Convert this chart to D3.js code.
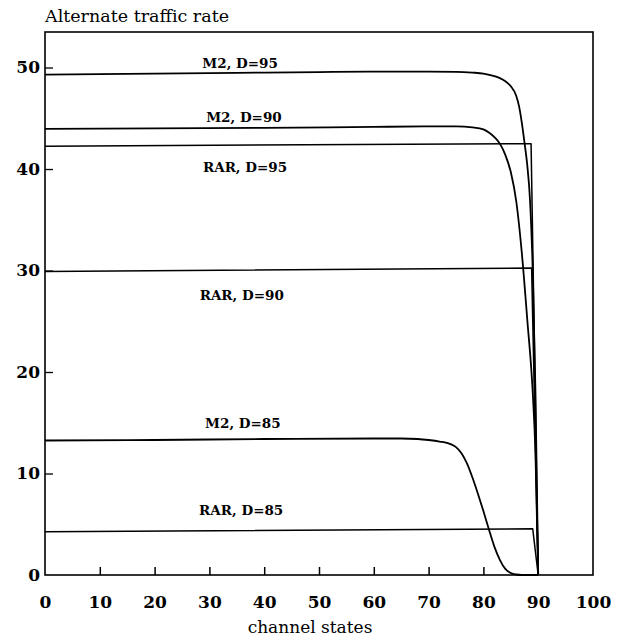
<!DOCTYPE html>
<html>
<head>
<meta charset="utf-8">
<script src="https://cdn.jsdelivr.net/npm/d3@7"></script>
<style>
  html, body { margin: 0; padding: 0; background: #fff; }
  svg { display: block; }
</style>
</head>
<body>
<svg id="chart" width="620" height="638"></svg>
<script>
// ---- data ----
const xTicks = [0, 10, 20, 30, 40, 50, 60, 70, 80, 90, 100];
const yTicks = [0, 10, 20, 30, 40, 50];

const m2D95X = [0, 10, 20, 30, 40, 50, 60, 70, 75, 78, 80, 82, 83, 84, 85, 86, 86.5, 87, 87.5, 88, 88.5, 89, 89.5, 90];
const m2D95Y = [49.3, 49.35, 49.4, 49.45, 49.5, 49.55, 49.6, 49.6, 49.58, 49.5, 49.4, 49.15, 48.95, 48.65, 48.15, 47.2, 46.2, 44.6, 42.6, 40.4, 37, 30, 18, 0];

const m2D90X = [0, 20, 40, 60, 70, 75, 78, 80, 81, 82, 83, 84, 85, 86, 87, 88, 89, 89.5, 90];
const m2D90Y = [43.95, 44.0, 44.05, 44.15, 44.2, 44.2, 44.1, 43.9, 43.6, 43.15, 42.5, 41.4, 39.7, 36.8, 31.8, 25.2, 18, 12, 0];

const m2D85X = [0, 20, 40, 60, 65, 68, 70, 72, 74, 75, 76, 77, 78, 79, 80, 81, 82, 83, 84, 85, 86, 87, 90];
const m2D85Y = [13.25, 13.3, 13.4, 13.45, 13.45, 13.4, 13.3, 13.15, 12.9, 12.6, 12.0, 11.0, 9.6, 8.0, 6.3, 4.5, 2.8, 1.5, 0.6, 0.2, 0.05, 0, 0];

const rarD95X = [0, 88.7, 90];
const rarD95Y = [42.25, 42.5, 0];
const rarD90X = [0, 88.8, 90];
const rarD90Y = [29.9, 30.25, 0];
const rarD85X = [0, 89.0, 90];
const rarD85Y = [4.25, 4.55, 0];

const labelText = ["M2, D=95", "M2, D=90", "RAR, D=95", "RAR, D=90", "M2, D=85", "RAR, D=85"];
const labelX    = [35.6, 36.3, 36.5, 35.9, 36.1, 35.8];
const labelY    = [50.0, 44.6, 39.7, 27.1, 14.5, 5.9];

const titleText = "Alternate traffic rate";
const xAxisTitle = "channel states";

// ---- drawing ----
const svg = d3.select("#chart");
const mLeft = 45, mRight = 593, mTop = 32, mBottom = 575;

const x = d3.scaleLinear().domain([0, 100]).range([mLeft, mRight]);
const y = d3.scaleLinear().domain([0, 53.5]).range([mBottom, mTop]);

const serif = "'DejaVu Serif', 'Liberation Serif', serif";

// frame
svg.append("rect")
  .attr("x", mLeft).attr("y", mTop)
  .attr("width", mRight - mLeft).attr("height", mBottom - mTop)
  .attr("fill", "none").attr("stroke", "#000").attr("stroke-width", 1.6);

// x axis (ticks pointing up, inside)
const xAxis = d3.axisBottom(x)
  .tickValues(xTicks)
  .tickSizeInner(-8).tickSizeOuter(0).tickPadding(21)
  .tickFormat(d3.format("d"));
const gx = svg.append("g").attr("transform", `translate(0,${mBottom})`).call(xAxis);
gx.select(".domain").remove();
gx.selectAll(".tick line")
  .attr("stroke", "#000").attr("stroke-width", 1.5)
  .attr("display", d => (d === 0 || d >= 90) ? "none" : null);
gx.selectAll(".tick text")
  .attr("font-family", serif).attr("font-weight", "bold")
  .attr("font-size", 17).attr("fill", "#000");

// y axis (ticks pointing right, inside)
const yAxis = d3.axisLeft(y)
  .tickValues(yTicks)
  .tickSizeInner(-8).tickSizeOuter(0).tickPadding(5)
  .tickFormat(d3.format("d"));
const gy = svg.append("g").attr("transform", `translate(${mLeft},0)`).call(yAxis);
gy.select(".domain").remove();
gy.selectAll(".tick line")
  .attr("stroke", "#000").attr("stroke-width", 1.3)
  .attr("display", d => d === 0 ? "none" : null);
gy.selectAll(".tick text")
  .attr("font-family", serif).attr("font-weight", "bold")
  .attr("font-size", 17).attr("fill", "#000");

// series
const series = [
  { xs: m2D95X, ys: m2D95Y, w: 1.8, curve: d3.curveMonotoneX },
  { xs: m2D90X, ys: m2D90Y, w: 1.8, curve: d3.curveMonotoneX },
  { xs: m2D85X, ys: m2D85Y, w: 1.8, curve: d3.curveMonotoneX },
  { xs: rarD95X, ys: rarD95Y, w: 1.5, curve: d3.curveLinear },
  { xs: rarD90X, ys: rarD90Y, w: 1.5, curve: d3.curveLinear },
  { xs: rarD85X, ys: rarD85Y, w: 1.5, curve: d3.curveLinear }
];
series.forEach(s => {
  const pts = s.xs.map((v, i) => [v, s.ys[i]]);
  const line = d3.line().x(d => x(d[0])).y(d => y(d[1])).curve(s.curve);
  svg.append("path").datum(pts)
    .attr("d", line)
    .attr("fill", "none").attr("stroke", "#000")
    .attr("stroke-width", s.w).attr("stroke-linejoin", "round");
});

// curve labels
svg.append("g").selectAll("text").data(labelText).join("text")
  .attr("x", (d, i) => x(labelX[i]))
  .attr("y", (d, i) => y(labelY[i]))
  .attr("text-anchor", "middle")
  .attr("font-family", serif).attr("font-weight", "bold")
  .attr("font-size", 13.5).attr("fill", "#000")
  .text(d => d);

// titles
svg.append("text")
  .attr("x", 45).attr("y", 22)
  .attr("font-family", serif).attr("font-size", 17.5).attr("fill", "#000")
  .text(titleText);

svg.append("text")
  .attr("x", 310).attr("y", 633)
  .attr("text-anchor", "middle")
  .attr("font-family", serif).attr("font-size", 17).attr("fill", "#000")
  .text(xAxisTitle);
</script>
</body>
</html>
